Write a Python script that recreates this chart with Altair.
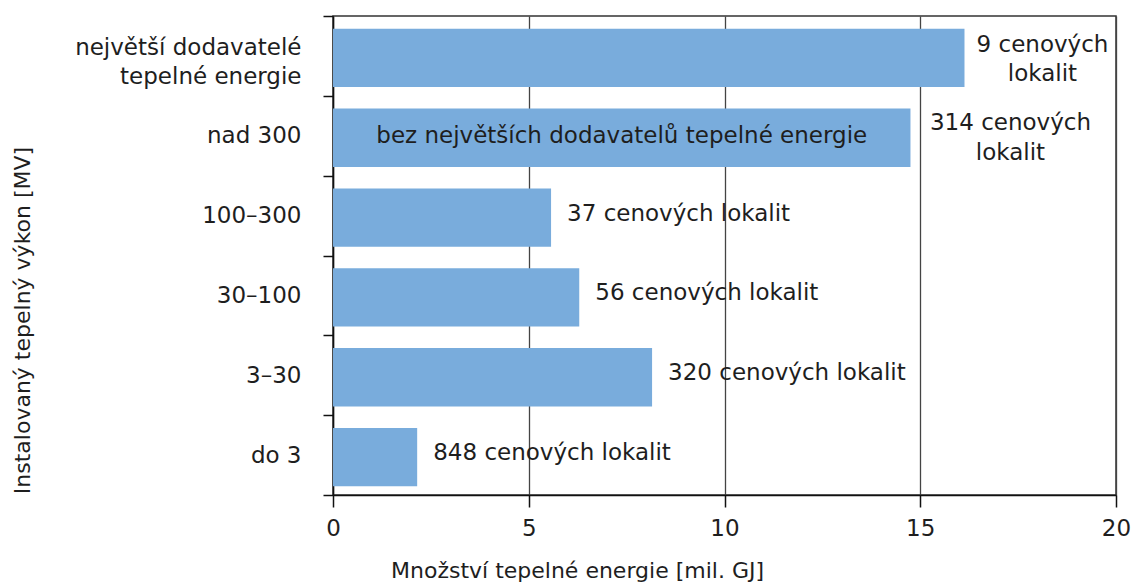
import altair as alt
import pandas as pd

categories = ["největší dodavatelé\u00a0|tepelné energie", "nad 300", "100–300", "30–100", "3–30", "do 3"]
values = [16.13, 14.75, 5.57, 6.29, 8.15, 2.15]
labels = ["9 cenových\nlokalit", "314 cenových\nlokalit", "37 cenových lokalit",
          "56 cenových lokalit", "320 cenových lokalit", "848 cenových lokalit"]
inner_label = "bez největších dodavatelů tepelné  energie"
inner_row = 1

df = pd.DataFrame({"cat": categories, "val": values, "lab": labels, "idx": list(range(len(categories)))})

FONT = "DejaVu Sans"
FS = 23
TXT = "#1e1e1e"

y = alt.Y("cat:N", sort=categories,
          scale=alt.Scale(paddingInner=0, paddingOuter=0),
          axis=alt.Axis(title="Instalovaný tepelný výkon [MV]", tickBand="extent",
                        labelExpr="split(datum.label, '|')", labelLineHeight=29,
                        labelOffset={"condition": {"test": "indexof(datum.label, '|') >= 0", "value": -8}, "value": 0},
                        labelPadding=22, tickSize=10, titleAngle=-90, labelLimit=0, titleFontSize=22,
                        titleX=-311, titleY=304, titleAlign="center", titleBaseline="middle"))
x = alt.X("val:Q", scale=alt.Scale(domain=[0, 20], nice=False),
          axis=alt.Axis(title="Množství tepelné energie [mil. GJ]", values=[0, 5, 10, 15, 20],
                        tickSize=12, labelPadding=10, grid=True, labelFlush=False, titleFontSize=22,
                        titleX=244, titleY=75, titleAlign="center", titleBaseline="middle"))

base = alt.Chart(df)
bars = base.mark_bar(color="#79acdc", height=alt.RelativeBandSize(0.73), yOffset=2).encode(x=x, y=y)

ys = alt.Y("cat:N", sort=categories)
single = base.transform_filter("datum.idx >= 2").mark_text(
    align="left", dx=16, dy=-2, font=FONT, fontSize=FS, color=TXT).encode(x="val:Q", y=ys, text="lab:N")
lab0 = base.transform_filter("datum.idx == 0").mark_text(
    align="center", dx=78, dy=-11, font=FONT, fontSize=FS, color=TXT, lineBreak="\n", lineHeight=29).encode(
    x="val:Q", y=ys, text="lab:N")
lab1 = base.transform_filter("datum.idx == 1").mark_text(
    align="center", dx=100, dy=-13, font=FONT, fontSize=FS, color=TXT, lineBreak="\n", lineHeight=30).encode(
    x="val:Q", y=ys, text="lab:N")
inner = base.transform_filter(f"datum.idx == {inner_row}").transform_calculate(
    half="datum.val / 2", t=f"'{inner_label}'").mark_text(
    align="center", font=FONT, fontSize=FS, color=TXT, dy=0).encode(
    x="half:Q", y=ys, text="t:N")

chart = alt.layer(bars, single, lab0, lab1, inner).properties(
    width=783, height=479,
    autosize=alt.AutoSizeParams(type="none"),
    padding={"left": 325, "top": 8, "right": 17, "bottom": 88},
).configure_view(stroke="#333333", strokeWidth=1.5).configure_axis(
    labelFont=FONT, titleFont=FONT, labelFontSize=FS,
    labelColor=TXT, titleColor=TXT, titleFontWeight="normal",
    domainColor="#111111", domainWidth=1.5, tickColor="#111111", tickWidth=1.5,
    gridColor="#444444", gridWidth=1.3, gridOpacity=1,
).configure_axisY(labelAlign="right")

chart.save("out.html", embed_options={"renderer": "svg", "actions": False})
